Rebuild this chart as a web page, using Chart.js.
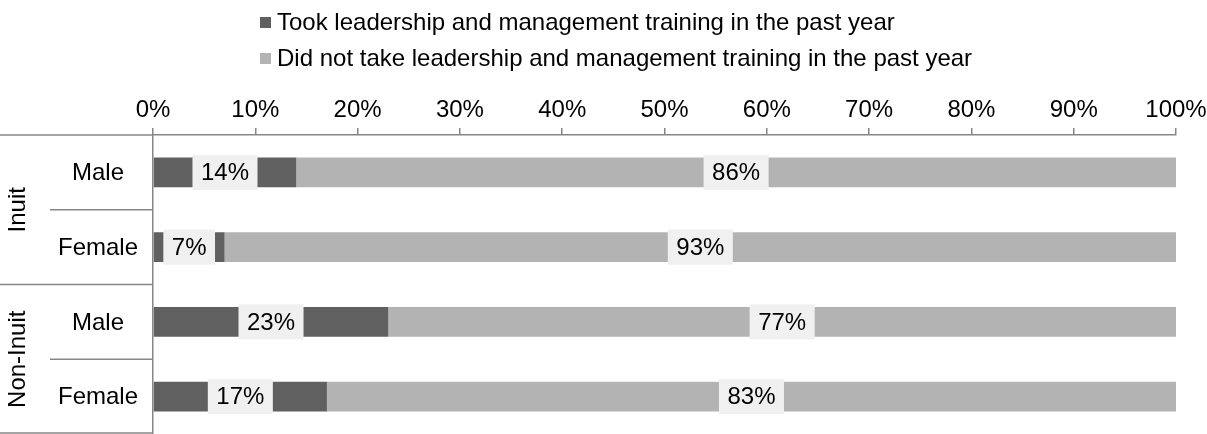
<!DOCTYPE html>
<html>
<head>
<meta charset="utf-8">
<script src="https://cdn.jsdelivr.net/npm/chart.js@4"></script>
<style>
  html, body { margin: 0; padding: 0; background: #fff; overflow: hidden; }
  #wrap { position: relative; width: 1207px; height: 434px; }
</style>
</head>
<body>
<div id="wrap"><canvas id="chart"></canvas></div>
<script>
// Données
const groups = ['Inuit', 'Non-Inuit'];
const categories = ['Male', 'Female', 'Male', 'Female'];
const tookTraining = [14, 7, 23, 17];
const didNotTake = [86, 93, 77, 83];
const xTicks = [0, 10, 20, 30, 40, 50, 60, 70, 80, 90, 100];

const FONT = 'Arial, "Liberation Sans", sans-serif';
const FS = 24;
const AXIS_GRAY = '#868686';

// Étiquettes de valeur avec fond gris clair
const valueLabels = {
    id: 'valueLabels',
    afterDatasetsDraw(chart) {
        const ctx = chart.ctx;
        ctx.save();
        ctx.font = FS + 'px ' + FONT;
        ctx.textAlign = 'center';
        ctx.textBaseline = 'middle';
        chart.data.datasets.forEach((ds, i) => {
            chart.getDatasetMeta(i).data.forEach((bar, j) => {
                const txt = ds.data[j] + '%';
                const cx = (bar.x + bar.base) / 2;
                const cy = bar.y;
                const w = ctx.measureText(txt).width + 17;
                const h = 35;
                ctx.fillStyle = '#f0f0f0';
                ctx.fillRect(cx - w / 2, cy - h / 2, w, h);
                ctx.fillStyle = '#000';
                ctx.fillText(txt, cx, cy + 1);
            });
        });
        ctx.restore();
    }
};

// Légende sur deux lignes, alignée à gauche
const customLegend = {
    id: 'customLegend',
    afterDraw(chart) {
        const ctx = chart.ctx;
        ctx.save();
        ctx.font = FS + 'px ' + FONT;
        ctx.textBaseline = 'middle';
        chart.data.datasets.forEach((ds, i) => {
            const y = 22 + i * 36;
            ctx.fillStyle = ds.backgroundColor;
            ctx.fillRect(260, y - 5, 11, 11);
            ctx.fillStyle = '#000';
            ctx.fillText(ds.label, 277, y + 1);
        });
        ctx.restore();
    }
};

// Étiquettes de catégories, de groupes et séparateurs
const groupAxis = {
    id: 'groupAxis',
    afterDraw(chart) {
        const ctx = chart.ctx;
        const yScale = chart.scales.y;
        const area = chart.chartArea;
        const step = (area.bottom - area.top) / categories.length;
        ctx.save();
        ctx.strokeStyle = AXIS_GRAY;
        ctx.lineWidth = 1.5;
        [area.top, area.bottom - 1].forEach(py => {
            ctx.beginPath();
            ctx.moveTo(0, py);
            ctx.lineTo(area.left, py);
            ctx.stroke();
        });
        for (let k = 1; k < categories.length; k++) {
            const py = area.top + step * k;
            const x0 = (k % 2 === 0) ? 0 : 50;
            ctx.beginPath();
            ctx.moveTo(x0, py);
            ctx.lineTo(area.left, py);
            ctx.stroke();
        }
        ctx.fillStyle = '#000';
        ctx.font = FS + 'px ' + FONT;
        ctx.textAlign = 'center';
        ctx.textBaseline = 'middle';
        categories.forEach((c, i) => {
            ctx.fillText(c, 98, yScale.getPixelForValue(i) + 1);
        });
        groups.forEach((g, gi) => {
            const cy = area.top + step * (gi * 2 + 1);
            ctx.save();
            ctx.translate(18, cy);
            ctx.rotate(-Math.PI / 2);
            ctx.fillText(g, 0, 0);
            ctx.restore();
        });
        ctx.restore();
    }
};

new Chart(document.getElementById('chart'), {
    type: 'bar',
    data: {
        labels: categories,
        datasets: [{
            label: 'Took leadership and management training in the past year',
            data: tookTraining,
            backgroundColor: '#606060',
            categoryPercentage: 1,
            barPercentage: 0.4
        }, {
            label: 'Did not take leadership and management training in the past year',
            data: didNotTake,
            backgroundColor: '#b3b3b3',
            categoryPercentage: 1,
            barPercentage: 0.4
        }]
    },
    options: {
        indexAxis: 'y',
        responsive: true,
        maintainAspectRatio: false,
        animation: false,
        layout: { padding: { top: 80, right: 31, bottom: 0, left: 0 } },
        plugins: {
            legend: { display: false },
            tooltip: { enabled: false }
        },
        scales: {
            x: {
                position: 'top',
                stacked: true,
                min: 0,
                max: 100,
                afterBuildTicks: scale => { scale.ticks = xTicks.map(v => ({ value: v })); },
                afterFit: scale => {
                    scale.height = 55;
                    scale.paddingRight = 0;
                    scale.paddingLeft = 0;
                },
                ticks: {
                    color: '#000',
                    padding: 3,
                    maxRotation: 0,
                    font: { size: FS, family: FONT },
                    callback: v => v + '%'
                },
                grid: { drawOnChartArea: false, drawTicks: true, tickLength: 7, color: AXIS_GRAY, lineWidth: 1.5 },
                border: { color: AXIS_GRAY, width: 1.5 }
            },
            y: {
                stacked: true,
                afterFit: scale => { scale.width = 153; },
                ticks: { display: false },
                grid: { display: false, drawTicks: false },
                border: { color: AXIS_GRAY, width: 1.5 }
            }
        }
    },
    plugins: [valueLabels, customLegend, groupAxis]
});
</script>
</body>
</html>
